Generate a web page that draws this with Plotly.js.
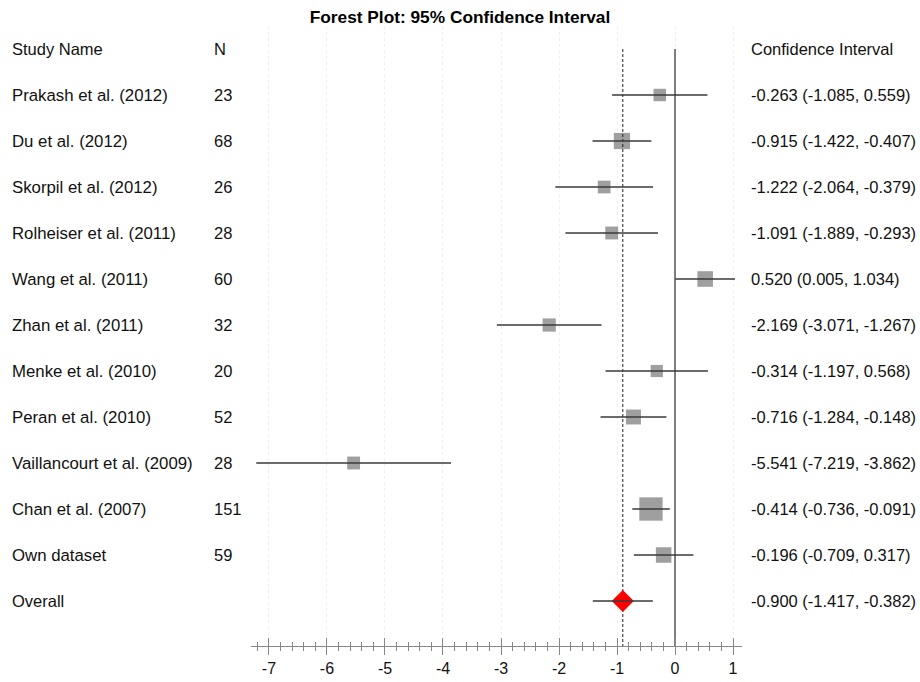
<!DOCTYPE html>
<html>
<head>
<meta charset="utf-8">
<script src="https://cdn.plot.ly/plotly-3.0.1.min.js"></script>
<style>html,body{margin:0;padding:0;background:#fff}#chart{width:920px;height:682px}</style>
</head>
<body>
<div id="chart"></div>
<script>
const studies = ["Prakash et al. (2012)","Du et al. (2012)","Skorpil et al. (2012)","Rolheiser et al. (2011)","Wang et al. (2011)","Zhan et al. (2011)","Menke et al. (2010)","Peran et al. (2010)","Vaillancourt et al. (2009)","Chan et al. (2007)","Own dataset"];
const nValues = [23,68,26,28,60,32,20,52,28,151,59];
const estimates = [-0.263,-0.915,-1.222,-1.091,0.520,-2.169,-0.314,-0.716,-5.541,-0.414,-0.196];
const lower = [-1.085,-1.422,-2.064,-1.889,0.005,-3.071,-1.197,-1.284,-7.219,-0.736,-0.709];
const upper = [0.559,-0.407,-0.379,-0.293,1.034,-1.267,0.568,-0.148,-3.862,-0.091,0.317];
const overallLabel = "Overall";
const overallEst = -0.900, overallLo = -1.417, overallHi = -0.382;
const xTicks = [-7,-6,-5,-4,-3,-2,-1,0,1];

const rows = studies.map((s,i)=>i+1);
const overallRow = studies.length + 1;
const fmt = v => v.toFixed(3);
const FONT = "Liberation Sans, Arial, sans-serif";

const traces = [];
// squares
traces.push({
  type:'scatter', mode:'markers', x: estimates, y: rows,
  marker:{symbol:'square', color:'#9f9f9f', opacity:1, size: nValues.map(n=>10.5+0.085*n), line:{width:0}},
  hoverinfo:'skip', showlegend:false, xaxis:'x', yaxis:'y'
});
// reference lines
traces.push({type:'scatter', mode:'lines', x:[0,0], y:[0,13], line:{color:'#555', width:1.5}, hoverinfo:'skip', showlegend:false});
traces.push({type:'scatter', mode:'lines', x:[overallEst,overallEst], y:[0,13], line:{color:'#222', width:1, dash:'3px,2px'}, hoverinfo:'skip', showlegend:false});
// overall diamond
traces.push({type:'scatter', mode:'markers', x:[overallEst], y:[overallRow],
  marker:{symbol:'diamond', color:'#ff0000', size:17, line:{width:0}}, hoverinfo:'skip', showlegend:false});
// CI lines
const lx = [], ly = [];
studies.forEach((s,i)=>{ lx.push(lower[i], upper[i], null); ly.push(rows[i], rows[i], null); });
lx.push(overallLo, overallHi, null); ly.push(overallRow, overallRow, null);
traces.push({type:'scatter', mode:'lines', x:lx, y:ly, line:{color:'#3a3a3a', width:1.4}, hoverinfo:'skip', showlegend:false, connectgaps:false});

const ann = [];
const addText = (x, y, t, extra={}) => ann.push(Object.assign({xref:'paper', yref:'y', x:x, y:y, text:t, showarrow:false, xanchor:'left', yanchor:'middle', font:{family:FONT, size:16.5, color:'#111'}}, extra));
addText(10/920, 0, "Study Name");
addText(212/920, 0, "N");
addText(749/920, 0, "Confidence Interval");
studies.forEach((s,i)=>{
  addText(10/920, rows[i], s, {font:{family:FONT, size:16.8, color:'#111'}});
  addText(212/920, rows[i], String(nValues[i]));
  addText(749/920, rows[i], `${fmt(estimates[i])} (${fmt(lower[i])}, ${fmt(upper[i])})`);
});
addText(10/920, overallRow, overallLabel);
addText(749/920, overallRow, `${fmt(overallEst)} (${fmt(overallLo)}, ${fmt(overallHi)})`);

const xr = [-7.31, 1.155];
const layout = {
  width:920, height:682,
  margin:{l:0, r:0, t:26, b:36},
  paper_bgcolor:'#fff', plot_bgcolor:'#fff',
  title:{text:'<b>Forest Plot: 95% Confidence Interval</b>', x:0.5, xanchor:'center', y:1-17/682, yanchor:'middle', font:{family:FONT, size:17.3, color:'#000'}},
  xaxis:{domain:[251/920, 742/920], range:xr, tickvals:xTicks, ticktext:xTicks.map(String),
    showline:true, linecolor:'#888', linewidth:1, ticks:'outside', ticklen:8, tickcolor:'#888', tickwidth:1,
    minor:{ticks:'outside', ticklen:4, dtick:0.2, tick0:0, tickcolor:'#888', showgrid:false},
    showgrid:true, gridcolor:'#efefef', griddash:'dot', gridwidth:1, zeroline:false,
    tickfont:{family:FONT, size:16, color:'#111'}, fixedrange:true},
  xaxis2:{domain:[251/920, 742/920], range:xr, overlaying:'x', anchor:'y', side:'bottom', tickvals:xTicks, showticklabels:false,
    ticks:'inside', ticklen:8, tickcolor:'#888', tickwidth:1,
    minor:{ticks:'inside', ticklen:4, dtick:0.2, tick0:0, tickcolor:'#888', showgrid:false},
    showgrid:false, zeroline:false, showline:false},
  yaxis:{range:[12.978, -0.5], visible:false, showgrid:false, zeroline:false, fixedrange:true},
  annotations:ann, showlegend:false
};
// invisible trace to activate xaxis2 (centred tick marks)
traces.push({type:'scatter', mode:'markers', x:[0], y:[0], xaxis:'x2', yaxis:'y', marker:{opacity:0}, hoverinfo:'skip', showlegend:false});
Plotly.newPlot('chart', traces, layout, {staticPlot:true, displayModeBar:false});
</script>
</body>
</html>
